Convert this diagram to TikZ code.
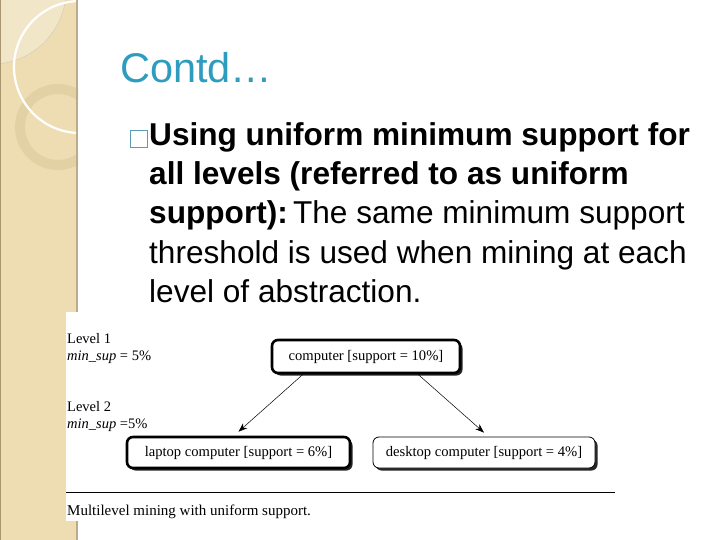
\documentclass[tikz,border=0pt]{standalone}
\usepackage{fontspec}
\setmainfont{Liberation Sans}
\newfontfamily\figfont{Liberation Serif}
\usepackage{tikz}
\usetikzlibrary{positioning,arrows.meta,shadows,calc}
\definecolor{strip}{HTML}{EEDDB2}
\definecolor{striplite}{HTML}{F2E6C8}
\definecolor{stripedge}{HTML}{A8966E}
\definecolor{ring}{HTML}{E3D1A6}
\definecolor{titleblue}{HTML}{2E9CBE}
\definecolor{bullet}{HTML}{5C9BB2}
\definecolor{ink}{HTML}{000000}
\tikzset{
  slide/.style  = {anchor=base west, inner sep=0pt, text=ink,
                   font=\fontsize{31.6}{39}\selectfont},
  lvl/.style    = {anchor=base west, inner sep=0pt,
                   font=\figfont\fontsize{14.5}{17}\selectfont},
  item/.style   = {draw=black, fill=white, rounded corners=6pt, inner sep=0pt,
                   minimum height=31pt, font=\figfont\fontsize{14.6}{17}\selectfont,
                   drop shadow={shadow xshift=2.5pt, shadow yshift=-2.5pt,
                                fill=black!85, opacity=1}},
  heavy/.style  = {line width=2.6pt},
  light/.style  = {line width=0.8pt},
  flow/.style   = {->, draw=black, line width=0.5pt,
                   >={Stealth[length=9pt,width=6.5pt]}},
}
\begin{document}
\begin{tikzpicture}[x=1pt,y=1pt]
  \useasboundingbox (0,0) rectangle (720,-540);
  % side strip
  \begin{scope}
    \clip (0,0) rectangle (78,-540);
    \fill[strip] (0,0) rectangle (78,-540);
    \fill[striplite] (-8,10) circle (74);
    \draw[stripedge!50,line width=0.4pt] (-8,10) circle (74);
    \draw[ring,line width=10pt] (58,-127) circle (38);
    \draw[white,line width=2.2pt] (80,-67) circle (66);
    \draw[stripedge,line width=1.2pt] (0.6,0) -- (0.6,-540);
    \draw[stripedge!80,line width=1.5pt] (77,0) -- (77,-540);
  \end{scope}
  % title and bullet text
  \node[anchor=base west,inner sep=0pt,text=titleblue,
        font=\fontsize{41.5}{48}\selectfont] (title) at (120,-83) {Contd…};
  \draw[bullet,line width=1.5pt] (130.5,-130.5) rectangle (147.5,-147.5);
  \node[slide] (line1) at (149,-146) {\textbf{Using uniform minimum support for}};
  \node[slide] (line2) at (149,-185) {\textbf{all levels (referred to as uniform}};
  \node[slide] (line3) at (149,-224) {\textbf{support):}\,The same minimum support};
  \node[slide] (line4) at (149,-263) {threshold is used when mining at each};
  \node[slide] (line5) at (149,-302) {level of abstraction.};
  % figure
  \fill[white] (66,-312) rectangle (620,-521);
  \node[lvl] (lev1) at (67,-343) {Level 1};
  \node[lvl] (sup1) at (67,-360) {\textit{min\_sup} = 5\%};
  \node[lvl] (lev2) at (67,-411) {Level 2};
  \node[lvl] (sup2) at (67,-428) {\textit{min\_sup} =5\%};
  \node[item,heavy,minimum width=188pt,minimum height=33pt] (comp) at (366,-356.5)
    {computer [support = 10\%]};
  \node[item,heavy,minimum width=223pt] (laptop) at (238.5,-452.5)
    {laptop computer [support = 6\%]};
  \node[item,light,minimum width=222pt] (desk) at (484,-452.5)
    {desktop computer [support = 4\%]};
  \draw[flow] ([xshift=-63pt]comp.south) -- ([yshift=4pt]laptop.north);
  \draw[flow] ([xshift=52pt]comp.south) -- ([yshift=4pt]desk.north);
  \coordinate (ruleL) at (66,-492);
  \coordinate (ruleR) at (615,-492);
  \draw[line width=0.9pt] (ruleL) -- (ruleR);
  \node[lvl,font=\figfont\fontsize{15}{18}\selectfont] (cap) at (67,-515)
    {Multilevel mining with uniform support.};
\end{tikzpicture}
\end{document}
